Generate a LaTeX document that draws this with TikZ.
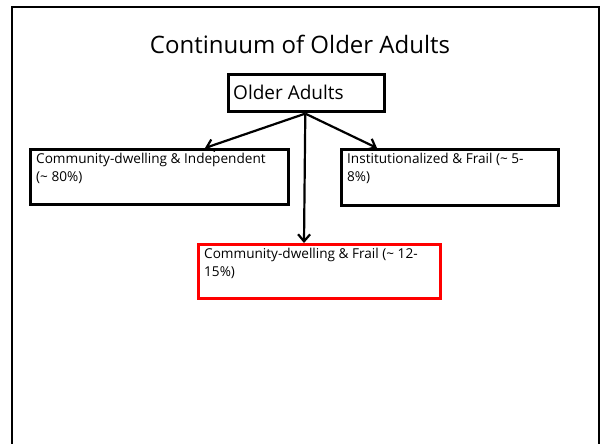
\documentclass[tikz,border=0pt]{standalone}
\usepackage{fontspec}
\setmainfont{Open Sans}
\usetikzlibrary{arrows.meta,calc}
\tikzset{
  box/.style={draw=black, line width=2.6pt, rectangle, inner sep=0pt, anchor=north west},
  redbox/.style={draw=red, line width=2.6pt, rectangle, inner sep=0pt, anchor=north west},
  txt/.style={anchor=north west, inner sep=0pt, align=left, font=\fontsize{13.6}{18}\selectfont},
  arr/.style={line width=2.2pt, -{Straight Barb[length=7pt,width=12pt,line width=2.2pt]}}
}
\begin{document}
\begin{tikzpicture}[x=1pt,y=-1pt]
\useasboundingbox (0,0) rectangle (600,444);
\begin{scope}
\clip (0,0) rectangle (600,444);
\draw[line width=2.6pt] (12,7) rectangle (599.5,460);
\end{scope}
\node[anchor=center, inner sep=0pt, font=\fontsize{24}{26}\selectfont] (title) at (300,44) {Continuum of Older Adults};
\node[box, minimum width=156pt, minimum height=37pt] (top) at (227,73) {};
\node[anchor=west, inner sep=0pt, font=\fontsize{19}{21}\selectfont] (topt) at ($(top.west)+(6,0)$) {Older Adults};
\node[box, minimum width=258pt, minimum height=55pt] (ind) at (29,148) {};
\node[txt] (indt) at ($(ind.north west)+(7,5)$) {Community-dwelling \& Independent\\(\textasciitilde{} 80\%)};
\node[box, minimum width=217pt, minimum height=56pt] (ins) at (340,148) {};
\node[txt] (inst) at ($(ins.north west)+(7,5)$) {Institutionalized \& Frail (\textasciitilde{} 5-\\8\%)};
\node[redbox, minimum width=242pt, minimum height=54pt] (cf) at (197,243) {};
\node[txt] (cft) at ($(cf.north west)+(7,5)$) {Community-dwelling \& Frail (\textasciitilde{} 12-\\15\%)};
\coordinate (src) at ($(top.south)+(-1,1)$);
\draw[arr] (src) -- ($(ind.north west)+(176,0)$);
\draw[arr] (src) -- ($(ins.north west)+(37,0)$);
\draw[arr] (src) -- ($(cf.north west)+(107,0)$);
\end{tikzpicture}
\end{document}
